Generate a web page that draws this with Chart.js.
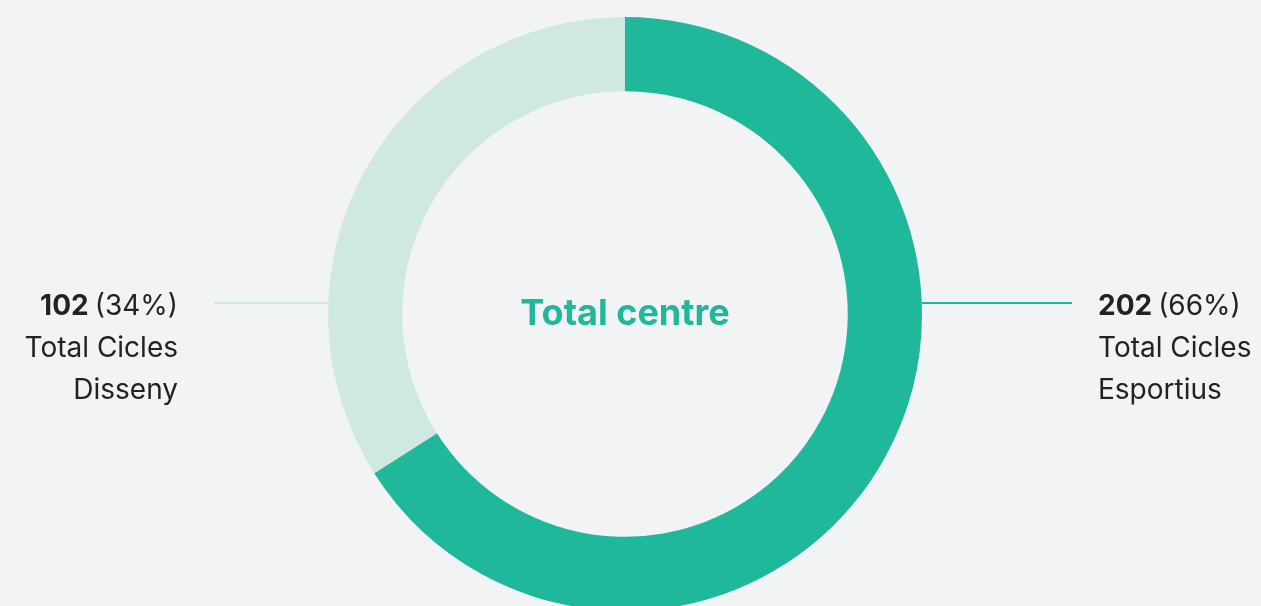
<!DOCTYPE html>
<html>
<head>
<meta charset="utf-8">
<script src="https://cdn.jsdelivr.net/npm/chart.js@4.4.0/dist/chart.umd.min.js"></script>
<style>
  html, body { margin: 0; padding: 0; background: #f2f3f5; overflow: hidden; }
  #wrap { position: relative; width: 1261px; height: 640px; }
</style>
</head>
<body>
<div id="wrap"><canvas id="totalChart"></canvas></div>
<script>
// dades del gràfic
const categories = ["Total Cicles Esportius", "Total Cicles Disseny"];
const labelLines = [["Total Cicles", "Esportius"], ["Total Cicles", "Disseny"]];
const values = [202, 102];
const percents = [66, 34];
const colors = ["#20b89a", "#cfe9e1"];
const centerLabel = "Total centre";

// dibuixa el text central i les etiquetes amb línies
const labelsPlugin = {
  id: "labelsPlugin",
  afterDraw(chart) {
    const ctx = chart.ctx;
    const arc = chart.getDatasetMeta(0).data[0];
    const cx = arc.x, cy = arc.y, r = arc.outerRadius;

    ctx.save();
    ctx.fillStyle = colors[0];
    ctx.font = "700 36px Inter";
    ctx.textAlign = "center";
    ctx.textBaseline = "middle";
    ctx.fillText(centerLabel, cx, cy);

    const lineY = cy - 11;
    // dreta (Esportius)
    ctx.lineWidth = 2;
    ctx.strokeStyle = colors[0];
    ctx.beginPath();
    ctx.moveTo(cx + r, lineY);
    ctx.lineTo(1072, lineY);
    ctx.stroke();
    // esquerra (Disseny)
    ctx.strokeStyle = colors[1];
    ctx.beginPath();
    ctx.moveTo(214, lineY);
    ctx.lineTo(cx - r, lineY);
    ctx.stroke();

    ctx.textBaseline = "alphabetic";
    ctx.fillStyle = "#222222";
    const base = cy + 1;

    // dreta
    ctx.textAlign = "left";
    let x = 1098;
    ctx.font = "700 28px Inter";
    ctx.fillText(String(values[0]), x, base);
    x += ctx.measureText(String(values[0])).width + 6;
    ctx.font = "400 28px Inter";
    ctx.fillText("(" + percents[0] + "%)", x, base);
    labelLines[0].forEach((t, i) => ctx.fillText(t, 1098, base + 42 * (i + 1)));

    // esquerra
    ctx.textAlign = "right";
    ctx.font = "400 28px Inter";
    const p1 = "(" + percents[1] + "%)";
    ctx.fillText(p1, 178, base);
    const pw = ctx.measureText(p1).width;
    ctx.font = "700 28px Inter";
    ctx.fillText(String(values[1]), 178 - pw - 6, base);
    ctx.font = "400 28px Inter";
    labelLines[1].forEach((t, i) => ctx.fillText(t, 178, base + 42 * (i + 1)));
    ctx.restore();
  }
};

new Chart(document.getElementById("totalChart"), {
  type: "doughnut",
  data: {
    labels: categories,
    datasets: [{
      data: percents,
      backgroundColor: colors,
      borderWidth: 0,
      hoverOffset: 0
    }]
  },
  options: {
    responsive: true,
    maintainAspectRatio: false,
    animation: false,
    cutout: "75%",
    layout: { padding: { top: 17, bottom: 29, left: 0, right: 11 } },
    plugins: {
      legend: { display: false },
      tooltip: { enabled: false }
    }
  },
  plugins: [labelsPlugin]
});
</script>
</body>
</html>
